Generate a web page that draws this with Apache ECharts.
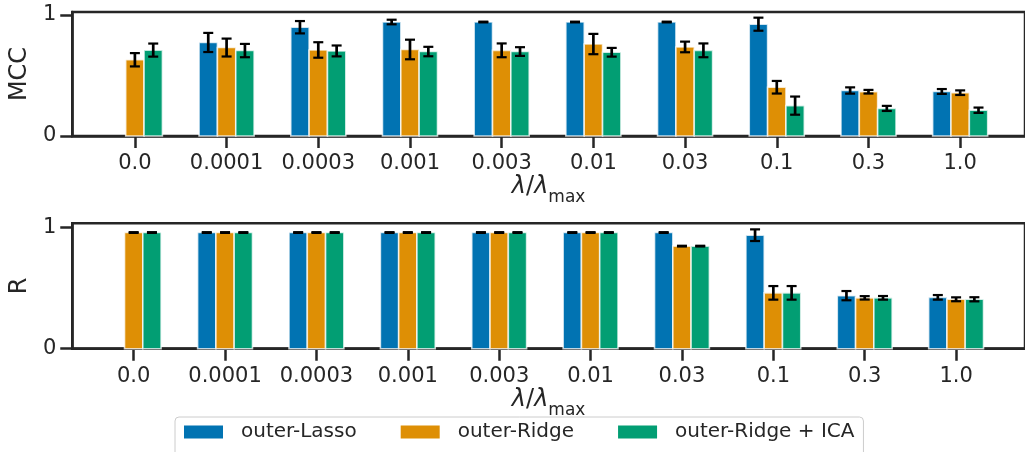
<!DOCTYPE html>
<html><head><meta charset="utf-8">
<script src="https://cdn.jsdelivr.net/npm/echarts@6/dist/echarts.min.js"></script>
<style>html,body{margin:0;padding:0;background:#fff}#c{width:1025px;height:452px}</style>
</head><body><div id="c"></div>
<script>
const categories = ['0.0','0.0001','0.0003','0.001','0.003','0.01','0.03','0.1','0.3','1.0'];
const seriesNames = ['outer-Lasso','outer-Ridge','outer-Ridge + ICA'];
const yTicks = [0, 1];

const mccLasso    = [null, 0.773, 0.899, 0.942, 0.942, 0.942, 0.942, 0.924, 0.376, 0.368];
const mccLassoErr = [null, 0.079, 0.051, 0.019, 0.003, 0.003, 0.003, 0.054, 0.026, 0.020];
const mccRidge    = [0.630, 0.731, 0.711, 0.715, 0.708, 0.760, 0.736, 0.403, 0.366, 0.358];
const mccRidgeErr = [0.055, 0.074, 0.064, 0.081, 0.057, 0.084, 0.044, 0.052, 0.015, 0.019];
const mccIca      = [0.710, 0.706, 0.703, 0.698, 0.698, 0.692, 0.708, 0.251, 0.228, 0.213];
const mccIcaErr   = [0.054, 0.055, 0.045, 0.039, 0.036, 0.036, 0.057, 0.075, 0.021, 0.022];

const rLasso    = [null, 0.957, 0.957, 0.957, 0.957, 0.957, 0.957, 0.935, 0.437, 0.423];
const rLassoErr = [null, 0.003, 0.003, 0.003, 0.003, 0.003, 0.003, 0.048, 0.038, 0.019];
const rRidge    = [0.957, 0.957, 0.957, 0.957, 0.957, 0.957, 0.845, 0.460, 0.419, 0.407];
const rRidgeErr = [0.003, 0.003, 0.003, 0.003, 0.003, 0.003, 0.003, 0.056, 0.014, 0.016];
const rIca      = [0.957, 0.957, 0.957, 0.957, 0.957, 0.957, 0.845, 0.460, 0.419, 0.407];
const rIcaErr   = [0.003, 0.003, 0.003, 0.003, 0.003, 0.003, 0.003, 0.056, 0.015, 0.017];

const colors = ['#0173b2', '#de8f05', '#029e73'];
const offsets = [-0.2, 0, 0.2];
const BAR_W = 0.2;
const INK = '#262626';
const FONT = 'DejaVu Sans';

function toData(vals, errs) {
  const out = [];
  vals.forEach((v, i) => { if (v != null) out.push([i, v, errs[i]]); });
  return out;
}

function makeRender(offset) {
  return function (params, api) {
    const x = api.value(0) + offset, v = api.value(1), e = api.value(2);
    const p0 = api.coord([x - BAR_W / 2, v]);
    const p1 = api.coord([x + BAR_W / 2, 0]);
    const hi = api.coord([x, v + e]);
    const lo = api.coord([x, v - e]);
    const cx = (p0[0] + p1[0]) / 2;
    const color = api.visual('color');
    return {
      type: 'group',
      children: [
        { type: 'rect', shape: { x: p0[0], y: p0[1], width: p1[0] - p0[0], height: p1[1] - p0[1] },
          style: { fill: color, stroke: 'rgba(255,255,255,0.75)', lineWidth: 1.6 } },
        { type: 'line', shape: { x1: cx, y1: hi[1], x2: cx, y2: lo[1] }, style: { stroke: '#000', lineWidth: 2.7 } },
        { type: 'line', shape: { x1: cx - 5, y1: hi[1], x2: cx + 5, y2: hi[1] }, style: { stroke: '#000', lineWidth: 2.2 } },
        { type: 'line', shape: { x1: cx - 5, y1: lo[1], x2: cx + 5, y2: lo[1] }, style: { stroke: '#000', lineWidth: 2.2 } }
      ]
    };
  };
}

const xName = '{i|λ}{n|/}{i|λ}{s|max}';
const xNameStyle = {
  color: INK,
  rich: {
    i: { fontSize: 24, fontStyle: 'italic', fontFamily: FONT, color: INK, lineHeight: 28, verticalAlign: 'top' },
    n: { fontSize: 24, fontFamily: FONT, color: INK, lineHeight: 28, verticalAlign: 'top' },
    s: { fontSize: 17, fontFamily: FONT, color: INK, lineHeight: 17, verticalAlign: 'bottom', padding: [0, 0, -3, 0] }
  }
};

function xAxis(gridIndex, min, max) {
  return {
    type: 'value', gridIndex, min, max,
    name: xName, nameLocation: 'middle', nameGap: 36, nameTextStyle: xNameStyle,
    axisLine: { show: true, onZero: false, lineStyle: { color: INK, width: 2.5 } },
    axisTick: { show: true, length: 12, customValues: categories.map((_, i) => i), lineStyle: { color: INK, width: 2.5 } },
    axisLabel: { customValues: categories.map((_, i) => i), formatter: v => categories[Math.round(v)],
      fontSize: 21, fontFamily: FONT, color: INK, margin: 17 },
    splitLine: { show: false }
  };
}
function yAxis(gridIndex, name, max) {
  return {
    type: 'value', gridIndex, min: 0, max,
    name, nameLocation: 'middle', nameGap: 27, nameTextStyle: { fontSize: 24, fontFamily: FONT, color: INK },
    axisLine: { show: true, onZero: false, lineStyle: { color: INK, width: 2.5 } },
    axisTick: { show: true, length: 12, customValues: yTicks, lineStyle: { color: INK, width: 2.5 } },
    axisLabel: { customValues: yTicks, formatter: v => String(v), fontSize: 21, fontFamily: FONT, color: INK, margin: 16 },
    splitLine: { show: false }
  };
}

const panels = [
  [mccLasso, mccLassoErr, mccRidge, mccRidgeErr, mccIca, mccIcaErr],
  [rLasso, rLassoErr, rRidge, rRidgeErr, rIca, rIcaErr]
];
const series = [];
panels.forEach((p, g) => {
  for (let k = 0; k < 3; k++) {
    series.push({
      type: 'custom', name: seriesNames[k], xAxisIndex: g, yAxisIndex: g,
      itemStyle: { color: colors[k] },
      encode: { x: 0, y: 1 },
      renderItem: makeRender(offsets[k]),
      data: toData(p[2 * k], p[2 * k + 1])
    });
  }
});

const chart = echarts.init(document.getElementById('c'), null, { renderer: 'canvas' });
chart.setOption({
  animation: false,
  color: colors,
  textStyle: { fontFamily: FONT },
  grid: [
    { left: 70, right: -3, top: 12, height: 124, show: true, borderColor: INK, borderWidth: 2.5, containLabel: false },
    { left: 66.7, right: -3, top: 223.3, height: 125.4, show: true, borderColor: INK, borderWidth: 2.5, containLabel: false }
  ],
  xAxis: [xAxis(0, -0.683, 9.707), xAxis(1, -0.672, 9.754)],
  yAxis: [yAxis(0, 'MCC', 1.0248), yAxis(1, 'R', 1.033)],
  legend: {
    data: seriesNames, left: 175, top: 417, icon: 'rect', itemWidth: 39, itemHeight: 13, itemGap: 44,
    padding: [5, 9, 40, 9], borderColor: '#cccccc', borderWidth: 1, borderRadius: 4,
    textStyle: { fontSize: 20, fontFamily: FONT, color: INK, padding: [0, 0, 0, 13] }
  },
  series
});
</script></body></html>
